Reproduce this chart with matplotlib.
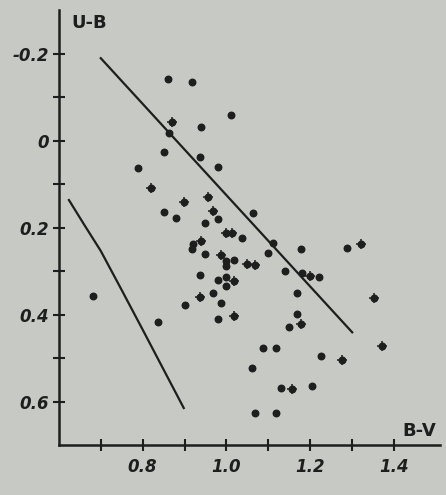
import matplotlib.pyplot as plt

# colour indices of the stars
bv_dot = [0.860, 0.917, 1.010, 0.938, 0.862, 0.850, 0.936, 0.979, 0.788,
          0.850, 0.879, 0.979, 0.948, 1.064, 1.038, 0.919, 0.917, 1.112,
          1.179, 1.288, 0.948, 1.098, 1.000, 1.017, 1.000, 1.140, 1.181,
          1.221, 0.936, 0.979, 1.000, 1.000, 0.969, 1.169, 0.681, 0.988,
          0.900, 0.979, 0.836, 1.169, 1.148, 1.086, 1.119, 1.226, 1.060,
          1.129, 1.205, 1.067, 1.117]
ub_dot = [-0.143, -0.136, -0.060, -0.032, -0.018, 0.025, 0.037, 0.060, 0.062,
          0.163, 0.177, 0.179, 0.189, 0.166, 0.223, 0.237, 0.248, 0.234,
          0.248, 0.246, 0.260, 0.257, 0.276, 0.274, 0.287, 0.299, 0.303,
          0.313, 0.308, 0.320, 0.313, 0.333, 0.349, 0.349, 0.356, 0.372,
          0.377, 0.409, 0.416, 0.398, 0.428, 0.476, 0.476, 0.494, 0.522,
          0.568, 0.563, 0.625, 0.625]

# stars drawn with a cross
bv_cross = [0.869, 0.821, 0.957, 0.898, 0.967, 0.998, 1.014, 0.938, 1.321,
            0.988, 1.048, 1.069, 1.200, 1.019, 0.936, 1.352, 1.017, 1.179,
            1.371, 1.276, 1.157]
ub_cross = [-0.044, 0.108, 0.129, 0.140, 0.161, 0.211, 0.211, 0.230, 0.237,
            0.262, 0.283, 0.285, 0.310, 0.322, 0.359, 0.361, 0.402, 0.421,
            0.471, 0.503, 0.570]

# the two boundary lines
line1_bv = [0.70, 1.30]
line1_ub = [-0.19, 0.44]
line2_bv = [0.624, 0.66, 0.70, 0.75, 0.80, 0.898]
line2_ub = [0.136, 0.192, 0.253, 0.343, 0.434, 0.614]

bg = "#c7c9c4"
ink = "#1e1e1e"

fig = plt.figure(figsize=(4.46, 4.95), dpi=100, facecolor=bg)
ax = fig.add_axes([0.132, 0.101, 0.855, 0.879], facecolor=bg)

ax.plot(line1_bv, line1_ub, color=ink, lw=1.6)
ax.plot(line2_bv, line2_ub, color=ink, lw=1.6)

ax.scatter(bv_dot, ub_dot, s=22, color=ink, zorder=3)
ax.scatter(bv_cross, ub_cross, s=22, color=ink, zorder=3)
ax.scatter(bv_cross, ub_cross, s=45, marker="+", color=ink, linewidths=1.1, zorder=3)

ax.set_xlim(0.6, 1.51)
ax.set_ylim(0.699, -0.301)

for s in ["top", "right"]:
    ax.spines[s].set_visible(False)
for s in ["left", "bottom"]:
    ax.spines[s].set_linewidth(1.8)
    ax.spines[s].set_color(ink)

ax.set_yticks([-0.2, 0, 0.2, 0.4, 0.6])
ax.set_yticklabels(["-0.2", "0", "0.2", "0.4", "0.6"])
ax.set_yticks([-0.1, 0.1, 0.3, 0.5], minor=True)
ax.set_xticks([0.7, 0.8, 0.9, 1.0, 1.1, 1.2, 1.3, 1.4])
ax.set_xticklabels(["", "0.8", "", "1.0", "", "1.2", "", "1.4"])

ax.tick_params(which="both", direction="inout", length=8, width=1.5,
               color=ink, labelcolor=ink, labelsize=12, pad=3)
ax.tick_params(axis="x", pad=5)
for lab in ax.get_xticklabels() + ax.get_yticklabels():
    lab.set_fontweight("bold")
    lab.set_fontstyle("italic")

ax.text(0.034, 0.99, "U-B", transform=ax.transAxes, ha="left", va="top",
        fontsize=13, fontweight="bold", color=ink)
ax.text(0.9, 0.012, "B-V", transform=ax.transAxes, ha="left", va="bottom",
        fontsize=13, fontweight="bold", color=ink)

plt.savefig("out.png", dpi=100, facecolor=bg)
